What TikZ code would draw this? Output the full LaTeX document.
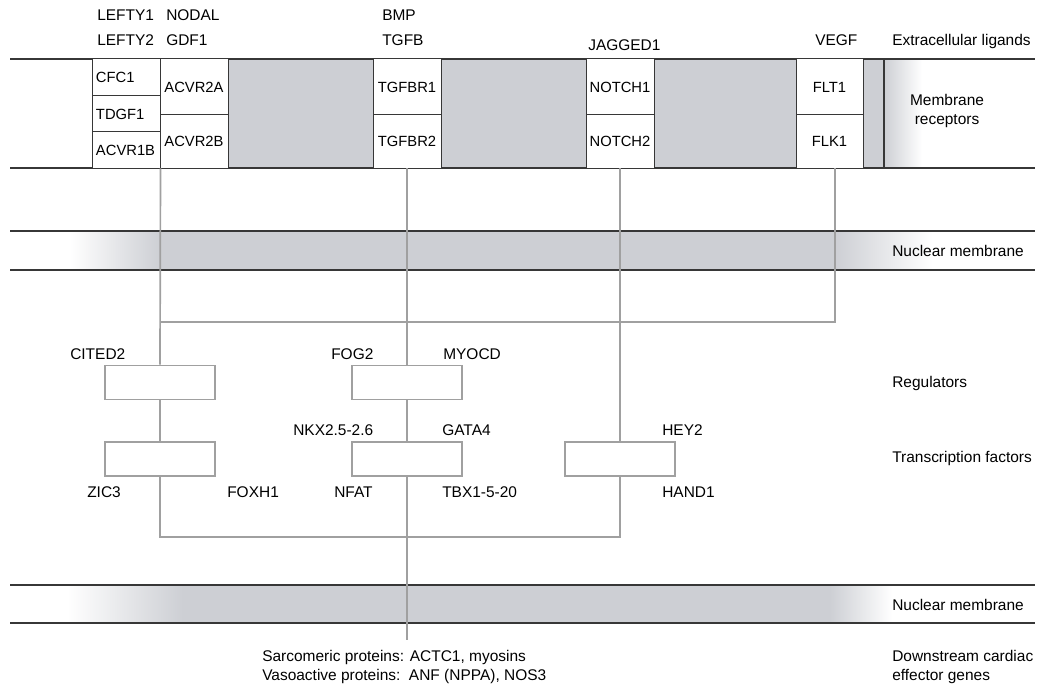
\documentclass[tikz,border=0pt]{standalone}
\usepackage{fontspec}
\setmainfont{Liberation Sans}
\usepackage{xcolor}
\usepackage{tikz}

\definecolor{memgray}{RGB}{205,207,212}
\definecolor{linkgray}{RGB}{160,160,160}
\definecolor{edgegray}{RGB}{55,55,55}

\begin{document}
\begin{tikzpicture}[x=0.025cm,y=-0.025cm,
  lbl/.style={anchor=base west,inner sep=0pt,font=\fontsize{11}{13}\selectfont},
  recbox/.style={draw=edgegray,fill=white,line width=0.7pt,inner sep=0pt,
    minimum width=1.7cm,font=\fontsize{10.5}{12}\selectfont},
  genebox/.style={draw=linkgray,fill=white,line width=1.2pt,inner sep=0pt,
    minimum width=2.75cm,minimum height=0.85cm},
  link/.style={draw=linkgray,line width=1.2pt},
  memline/.style={draw=edgegray,line width=0.9pt}]
\path[use as bounding box] (0,0) rectangle (1040,688);

% extracellular ligands
\node[lbl] (lefty1) at (97,20.5) {LEFTY1};
\node[lbl] (lefty2) at (97,45.5) {LEFTY2};
\node[lbl] (nodal) at (166,20.5) {NODAL};
\node[lbl] (gdf1) at (166,45.5) {GDF1};
\node[lbl] (bmp) at (382,20.5) {BMP};
\node[lbl] (tgfb) at (382,45.5) {TGFB};
\node[lbl] (jagged) at (588,51) {JAGGED1};
\node[lbl] (vegf) at (815,45.5) {VEGF};
\node[lbl] (extralig) at (892,45.5) {Extracellular ligands};

% membrane band
\fill[memgray] (92,59) rectangle (884,168);
\shade[left color=memgray,right color=white] (884,59) rectangle (922,168);
\draw[memline] (10,59) -- (1035,59);
\draw[memline] (10,168) -- (1035,168);
\draw[memline] (884,59) -- (884,168);

% receptors
\node[recbox,align=left,text width=1.5cm,minimum height=0.925cm] (cfc1) at (126,77.5) {CFC1};
\node[recbox,align=left,text width=1.5cm,minimum height=0.9cm] (tdgf1) at (126,114) {TDGF1};
\node[recbox,align=left,text width=1.5cm,minimum height=0.9cm] (acvr1b) at (126,150) {ACVR1B};
\node[recbox,minimum height=1.4cm] (acvr2a) at (194,87) {ACVR2A};
\node[recbox,minimum height=1.325cm] (acvr2b) at (194,141.5) {ACVR2B};
\node[recbox,minimum height=1.4cm] (tgfbr1) at (407,87) {TGFBR1};
\node[recbox,minimum height=1.325cm] (tgfbr2) at (407,141.5) {TGFBR2};
\node[recbox,minimum height=1.4cm] (notch1) at (620,87) {NOTCH1};
\node[recbox,minimum height=1.325cm] (notch2) at (620,141.5) {NOTCH2};
\node[recbox,minimum height=1.4cm,minimum width=1.675cm] (flt1) at (829.5,87) {FLT1};
\node[recbox,minimum height=1.325cm,minimum width=1.675cm] (flk1) at (829.5,141.5) {FLK1};
\node[font=\fontsize{11}{13}\selectfont,align=center,inner sep=0pt] (memrec) at (947,111) {Membrane\\receptors};

% nuclear membranes
\fill[memgray] (160,231) rectangle (835,270);
\shade[left color=white,right color=memgray] (70,231) rectangle (160,270);
\shade[left color=memgray,right color=white] (835,231) rectangle (932,270);
\draw[memline] (10,231) -- (1035,231);
\draw[memline] (10,270) -- (1035,270);
\node[lbl] (nucmem1) at (892,257) {Nuclear membrane};

\fill[memgray] (183,585) rectangle (830,623);
\shade[left color=white,right color=memgray] (67,585) rectangle (183,623);
\shade[left color=memgray,right color=white] (830,585) rectangle (892,623);
\draw[memline] (10,585) -- (1035,585);
\draw[memline] (10,623) -- (1035,623);
\node[lbl] (nucmem2) at (892,610) {Nuclear membrane};

% regulators and transcription factors
\node[genebox] (regcited) at (160,382.5) {};
\node[genebox] (regfog) at (407,382.5) {};
\node[genebox] (tfzic) at (160,459) {};
\node[genebox] (tfnkx) at (407,459) {};
\node[genebox] (tfhey) at (620,459) {};

\node[lbl] (cited2) at (70,360) {CITED2};
\node[lbl] (fog2) at (331,360) {FOG2};
\node[lbl] (myocd) at (443,360) {MYOCD};
\node[lbl] (nkx) at (293,436) {NKX2.5-2.6};
\node[lbl] (gata4) at (442,436) {GATA4};
\node[lbl] (hey2) at (662,436) {HEY2};
\node[lbl] (zic3) at (87,497) {ZIC3};
\node[lbl] (foxh1) at (227,497) {FOXH1};
\node[lbl] (nfat) at (334,497) {NFAT};
\node[lbl] (tbx) at (442,497) {TBX1-5-20};
\node[lbl] (hand1) at (662,497) {HAND1};
\node[lbl] (regs) at (892,388) {Regulators};
\node[lbl] (tfs) at (892,463) {Transcription factors};

% connectors
\coordinate (upjoin) at (160,322);
\coordinate (lowjoin) at (620,537);
\coordinate (genes) at (407,640);
\draw[link] (acvr1b.south east) -- (regcited.north);
\draw[link] (tgfbr2.south) -- (regfog.north);
\draw[link] (notch2.south) -- (tfhey.north);
\draw[link] ([xshift=0.14cm]flk1.south) |- (upjoin);
\draw[link] (regcited.south) -- (tfzic.north);
\draw[link] (regfog.south) -- (tfnkx.north);
\draw[link] (tfzic.south) |- (lowjoin) -- (tfhey.south);
\draw[link] (tfnkx.south) -- (genes);

% effector genes
\node[lbl] (sarco) at (262,661) {Sarcomeric proteins: ACTC1, myosins};
\node[lbl] (vaso) at (262,680) {Vasoactive proteins:\ \ ANF (NPPA), NOS3};
\node[lbl] (downstr) at (892,661) {Downstream cardiac};
\node[lbl] (effgenes) at (892,680) {effector genes};
\end{tikzpicture}
\end{document}
